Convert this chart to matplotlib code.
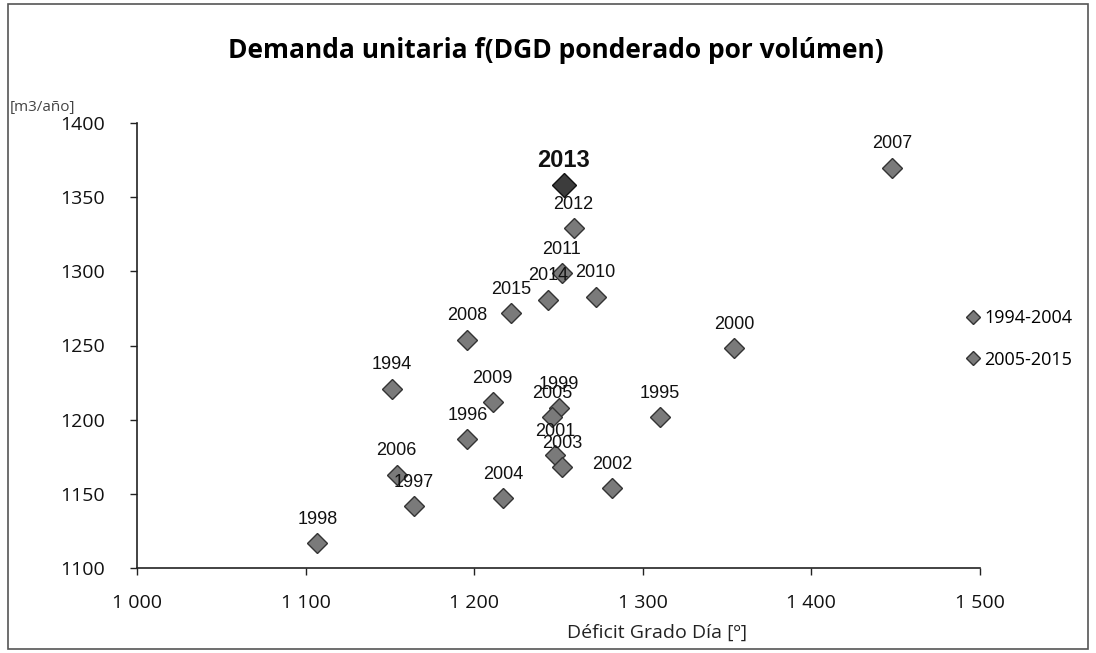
import numpy as np
import matplotlib.pyplot as plt
from matplotlib.patches import Rectangle

# Series 1994-2004
years_a = ['1994', '1995', '1996', '1997', '1998', '1999', '2000', '2001', '2002', '2003', '2004']
dgd_a = [1151, 1310, 1196, 1164, 1107, 1250, 1354, 1248, 1282, 1252, 1217]
dem_a = [1221, 1202, 1187, 1142, 1117, 1208, 1248, 1176, 1154, 1168, 1147]

# Series 2005-2015
years_b = ['2005', '2006', '2007', '2008', '2009', '2010', '2011', '2012', '2013', '2014', '2015']
dgd_b = [1246, 1154, 1448, 1196, 1211, 1272, 1252, 1259, 1253, 1244, 1222]
dem_b = [1202, 1163, 1370, 1254, 1212, 1283, 1299, 1329, 1358, 1281, 1272]

highlight = '2013'

fig = plt.figure(figsize=(10.96, 6.53), dpi=100)
ax = fig.add_axes([137/1096, 85/653, 843/1096, 445/653])

mk = dict(marker='D', linestyle='none', markersize=10,
          markerfacecolor='#7a7a7a', markeredgecolor='#333333', markeredgewidth=1.0)
ax.plot(dgd_a, dem_a, label='1994-2004', **mk)
ax.plot(dgd_b, dem_b, label='2005-2015', **mk)

for yrs, xs, ys in [(years_a, dgd_a, dem_a), (years_b, dgd_b, dem_b)]:
    for yr, xv, yv in zip(yrs, xs, ys):
        if yr == highlight:
            ax.plot([xv], [yv], marker='D', markersize=12, markerfacecolor='#3c3c3c',
                    markeredgecolor='#111111', linestyle='none')
            ax.annotate(yr, (xv, yv), xytext=(0, 18), textcoords='offset points',
                        ha='center', va='center', fontsize=17, fontweight='bold',
                        family='Liberation Sans', color='#111111')
        else:
            ax.annotate(yr, (xv, yv), xytext=(0, 17), textcoords='offset points',
                        ha='center', va='center', fontsize=13,
                        family='Liberation Sans', color='#111111')

ax.set_xlim(1000, 1500)
ax.set_ylim(1100, 1400)
ax.set_xticks(np.arange(1000, 1501, 100))
ax.set_xticklabels(['1 000', '1 100', '1 200', '1 300', '1 400', '1 500'])
ax.set_yticks(np.arange(1100, 1401, 50))
for s in ['top', 'right']:
    ax.spines[s].set_visible(False)
for s in ['left', 'bottom']:
    ax.spines[s].set_color('#222222')
    ax.spines[s].set_linewidth(1.2)
ax.tick_params(direction='out', length=5, width=1, colors='#222222',
               labelsize=14, labelcolor='#111111')
for lbl in ax.get_xticklabels() + ax.get_yticklabels():
    lbl.set_family('Open Sans')
ax.tick_params(axis='x', pad=14)
ax.tick_params(axis='y', pad=18)

fig.text(657/1096, 1 - 633/653, 'Déficit Grado Día [º]', family='Open Sans', fontsize=14,
         color='#222222', ha='center', va='center')

fig.text(556/1096, 1 - 50/653, 'Demanda unitaria f(DGD ponderado por volúmen)',
         ha='center', va='center', fontsize=19, fontweight='bold', family='Open Sans')
fig.text(10/1096, 1 - 107/653, '[m3/año]', ha='left', va='center',
         fontsize=11, family='Open Sans', color='#444444')

leg = fig.legend(loc='center left', bbox_to_anchor=(948/1096, 1 - 339/653),
                 frameon=False, handletextpad=0.1, labelspacing=1.3,
                 markerscale=0.7, handlelength=1.0, prop={'family': 'Open Sans', 'size': 13})

fig.patches.append(Rectangle((8/1096, 4/653), 1080/1096, 645/653, transform=fig.transFigure,
                             fill=False, edgecolor='#555555', linewidth=1.2))

fig.savefig('out.png', dpi=100)
